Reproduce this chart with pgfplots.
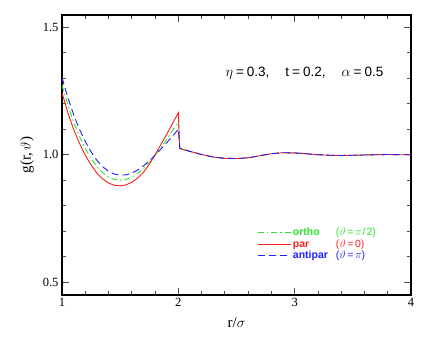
\documentclass[border=0pt]{standalone}
\usepackage{fontspec}
\setmainfont{Liberation Serif}
\newfontfamily\hv{Liberation Sans}
\usepackage{pgfplots}
\usepackage{pgfplotstable}
\pgfplotsset{compat=1.18}
\usetikzlibrary{calc}

\definecolor{cgreen}{RGB}{40,230,40}
\definecolor{cred}{RGB}{255,30,30}
\definecolor{cblue}{RGB}{30,30,255}

% r, g(r,theta) for theta = pi/2, 0, pi
\pgfplotstableread{
r     ortho  par    antipar
1.00  1.273  1.243  1.303
1.05  1.195  1.165  1.225
1.10  1.128  1.100  1.157
1.15  1.072  1.045  1.100
1.20  1.025  0.998  1.052
1.25  0.985  0.960  1.011
1.30  0.953  0.928  0.978
1.35  0.929  0.905  0.953
1.40  0.912  0.889  0.935
1.45  0.903  0.880  0.924
1.50  0.900  0.878  0.920
1.55  0.903  0.882  0.921
1.60  0.912  0.892  0.928
1.65  0.926  0.908  0.940
1.70  0.945  0.931  0.956
1.75  0.970  0.962  0.976
1.80  0.998  1.000  0.998
1.85  1.028  1.040  1.022
1.90  1.060  1.080  1.047
1.95  1.095  1.122  1.073
2.00  1.130  1.165  1.100
2.012 1.024  1.024  1.026
2.10  1.013  1.013  1.013
2.20  1.001  1.001  1.001
2.30  0.991  0.991  0.991
2.40  0.986  0.986  0.986
2.50  0.985  0.985  0.985
2.60  0.988  0.988  0.988
2.70  0.996  0.996  0.996
2.80  1.004  1.004  1.004
2.90  1.008  1.008  1.008
3.00  1.007  1.007  1.007
3.10  1.004  1.004  1.004
3.20  1.000  1.000  1.000
3.30  0.998  0.998  0.998
3.40  0.997  0.997  0.997
3.50  0.998  0.998  0.998
3.60  0.999  0.999  0.999
3.70  1.000  1.000  1.000
3.80  1.001  1.001  1.001
3.90  1.000  1.000  1.000
4.00  1.000  1.000  1.000
}\gofr

\newcommand{\eqs}{\hspace{1.5pt}=\hspace{1.5pt}}

\begin{document}
\begin{tikzpicture}
\begin{axis}[
  scale only axis, width=349pt, height=280pt,
  xmin=1, xmax=4, ymin=0.45, ymax=1.548,
  xtick={1,2,3,4}, minor x tick num=4,
  ytick={0.5,1.0,1.5}, minor y tick num=4,
  yticklabel style={/pgf/number format/.cd,fixed,fixed zerofill,precision=1},
  /pgf/number format/assume math mode=true,
  tick align=inside, major tick length=7pt, minor tick length=4pt,
  tick style={gray!60!black, line width=0.8pt},
  axis line style={line width=1.2pt},
  ticklabel style={font=\fontsize{12.5}{14}\selectfont},
  label style={font=\fontsize{15}{17}\selectfont},
  xlabel={r/$\sigma$}, ylabel={g(r,\,$\vartheta$)},
  xlabel style={at={(axis description cs:0.5,-0.1)}, anchor=center},
  ylabel style={at={(axis description cs:-0.1,0.5)}, anchor=center},
  legend style={at={(axis cs:2.675,0.72)}, anchor=north west, draw=none, fill=none,
    font=\hv\fontsize{10.5}{11}\selectfont, inner sep=0pt, row sep=-2pt,
    /tikz/every even column/.append style={column sep=7pt}},
  legend cell align=left,
  legend image code/.code={\draw[#1] (0pt,0pt) -- (33pt,0pt);},
]
\addplot[cgreen, line width=0.9pt, dash pattern=on 6pt off 3pt on 1.5pt off 3pt] table[x=r, y=ortho] {\gofr};
\addlegendentry{\textcolor{cgreen}{\makebox[43pt][l]{\bfseries ortho}($\vartheta$\eqs$\pi$\hspace{1pt}/\hspace{1pt}2)}}
\addplot[cred, line width=0.9pt] table[x=r, y=par] {\gofr};
\addlegendentry{\textcolor{cred}{\makebox[43pt][l]{\bfseries par}($\vartheta$\eqs 0)}}
\addplot[cblue, line width=0.9pt, dash pattern=on 7pt off 4pt] table[x=r, y=antipar] {\gofr};
\addlegendentry{\textcolor{cblue}{\makebox[43pt][l]{\bfseries antipar}($\vartheta$\eqs$\pi$)}}
\node[anchor=west, font=\hv\fontsize{13.5}{15}\selectfont] at (axis cs:2.376,1.32)
  {$\eta$\hspace{3pt}=\hspace{3pt}0.3,\hspace{16pt}t\hspace{3pt}=\hspace{3pt}0.2,\hspace{16pt}$\alpha$\hspace{3pt}=\hspace{3pt}0.5};
\end{axis}
\pgfresetboundingbox
\path[use as bounding box] ($(current axis.south west)+(-62pt,-49pt)$) rectangle ++(436pt,344pt);
\end{tikzpicture}
\end{document}
